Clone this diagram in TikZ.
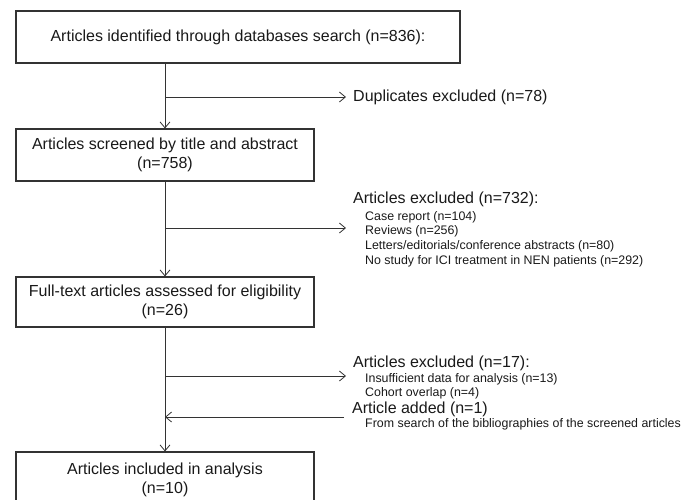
\documentclass[tikz,border=0pt]{standalone}
\usepackage{fontspec}
\setmainfont{Liberation Sans}
\usetikzlibrary{arrows.meta}
\begin{document}
\begin{tikzpicture}[x=1pt,y=-1pt,
    box/.style={draw=black!80,line width=1.1pt,align=center,inner sep=0pt,text=black!90,font=\fontsize{16}{19}\selectfont},
    big/.style={anchor=west,inner sep=0pt,text=black!90,font=\fontsize{16}{19}\selectfont},
    small/.style={anchor=west,inner sep=0pt,text=black!90,font=\fontsize{12.4}{14}\selectfont},
    arr/.style={draw=black!80,line width=0.8pt,-{Straight Barb[length=6pt,width=10pt]}}]
        \useasboundingbox (0,0) rectangle (683,499);
        \node[box,minimum width=444pt,minimum height=52pt] (ident) at (238,37) {Articles identified through databases search (n=836):};
        \node[box,minimum width=298pt,minimum height=52pt] (screen) at (165,155) {Articles screened by title and abstract\\(n=758)};
        \node[box,minimum width=298pt,minimum height=50pt] (full) at (165,302) {Full-text articles assessed for eligibility\\(n=26)};
        \node[box,minimum width=298pt,minimum height=55pt] (incl) at (165,479.5) {Articles included in analysis\\(n=10)};
        \node[big] (dupl) at (353,97) {Duplicates excluded (n=78)};
        \node[big] (excl1) at (353,199) {Articles excluded (n=732):};
        \foreach \txt [count=\i from 0] in {Case report (n=104),Reviews (n=256),Letters/editorials/conference abstracts (n=80),No study for ICI treatment in NEN patients (n=292)}
            \node[small] (excl1item\i) at (365,217+14.7*\i) {\txt};
        \node[big] (excl2) at (353,363) {Articles excluded (n=17):};
        \foreach \txt [count=\i from 0] in {Insufficient data for analysis (n=13),Cohort overlap (n=4)}
            \node[small] (excl2item\i) at (365,379+14.5*\i) {\txt};
        \node[big] (added) at (352,409) {Article added (n=1)};
        \node[small] (addedsrc) at (365,424) {From search of the bibliographies of the screened articles};
        \coordinate (duplTip) at (346,97);
        \coordinate (excl1Tip) at (346,228);
        \coordinate (excl2Tip) at (346,376);
        \coordinate (addedEnd) at (344,417);
        \draw[arr] (ident.south -| screen.north) -- (screen.north);
        \draw[arr] (screen.south) -- (full.north);
        \draw[arr] (full.south) -- (incl.north);
        \draw[arr] (screen.north |- duplTip) -- (duplTip);
        \draw[arr] (screen.south |- excl1Tip) -- (excl1Tip);
        \draw[arr] (full.south |- excl2Tip) -- (excl2Tip);
        \draw[arr] (addedEnd) -- (full.south |- addedEnd);
    \end{tikzpicture}
\end{document}
